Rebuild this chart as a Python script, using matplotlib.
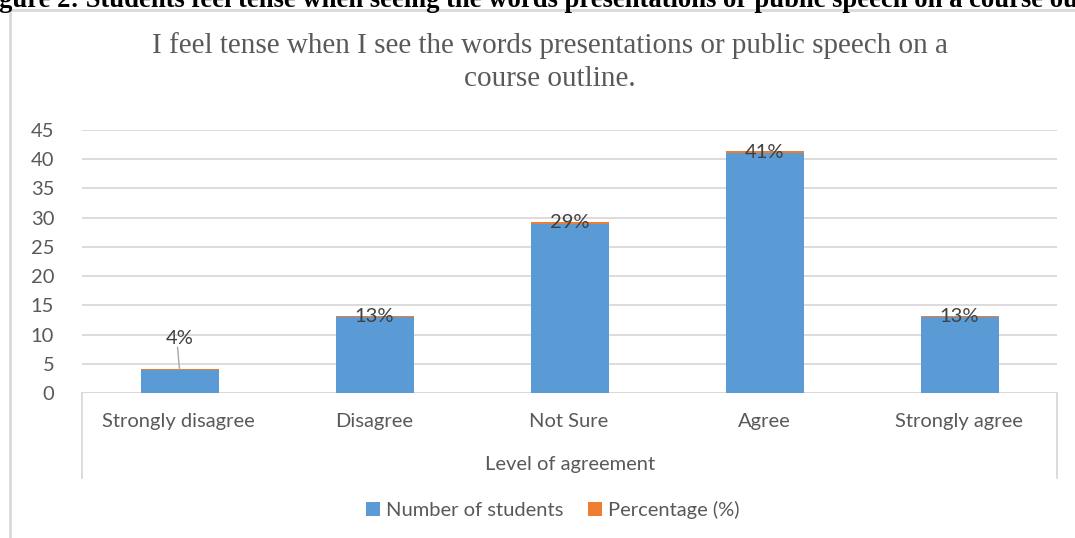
import matplotlib
matplotlib.use("Agg")
import matplotlib.pyplot as plt
from matplotlib.patches import Rectangle
from matplotlib.lines import Line2D
import numpy as np

categories = ["Strongly disagree", "Disagree", "Not Sure", "Agree", "Strongly agree"]
students = [4, 13, 29, 41, 13]
percentage = [0.04, 0.13, 0.29, 0.41, 0.13]
pct_labels = ["4%", "13%", "29%", "41%", "13%"]
yticks = [0, 5, 10, 15, 20, 25, 30, 35, 40, 45]

W, H = 1075, 538
fig = plt.figure(figsize=(W / 100, H / 100), dpi=100)

def fx(px):
    return px / W

def fy(py):
    return 1 - py / H

BLUE = "#5B9BD5"
ORANGE = "#ED7D31"
GRID = "#D9D9D9"
TXT = "#595959"
SANS = "Lato"
FS = 14.5

# outer chart frame (extends past right/bottom edges)
fig.add_artist(Rectangle((fx(10), fy(540)), fx(1080) - fx(10), fy(10) - fy(540),
                         transform=fig.transFigure, fill=False, edgecolor=GRID, lw=2))

# cropped document caption
fig.text(fx(-1), fy(7), "gure 2: Students feel tense when seeing the words presentations or public speech on a course ou",
         family="Liberation Serif", weight="bold", fontsize=19.2, color="black", ha="left", va="baseline")

# chart title
fig.text(fx(550), fy(46), "I feel tense when I see the words presentations or public speech on a",
         family="Liberation Serif", fontsize=21, color=TXT, ha="center", va="center")
fig.text(fx(550), fy(79), "course outline.",
         family="Liberation Serif", fontsize=21, color=TXT, ha="center", va="center")

ax = fig.add_axes([fx(82), fy(393), fx(1057) - fx(82), fy(130) - fy(393)])
x = np.arange(len(categories))
ax.bar(x, students, width=0.4, color=BLUE, zorder=3, label="Number of students")
ax.bar(x, percentage, width=0.4, bottom=students, color=ORANGE, zorder=3, label="Percentage (%)")
ax.set_xlim(-0.5, len(categories) - 0.5)
ax.set_ylim(0, 45)
ax.set_yticks(yticks)
ax.set_yticklabels([str(t) for t in yticks], family=SANS, fontsize=FS, color=TXT)
ax.tick_params(axis="y", length=0, pad=20)
ax.set_xticks([])
ax.grid(axis="y", color=GRID, lw=1.3, zorder=0)
for s in ax.spines.values():
    s.set_visible(False)
ax.axhline(0, color=GRID, lw=1.3, zorder=2)

# data labels
for i, (v, p, lab) in enumerate(zip(students, percentage, pct_labels)):
    if i == 0:
        ax.text(i, 9.4, lab, ha="center", va="center", family=SANS, fontsize=FS, color="#404040", zorder=5)
        ax.plot([i - 0.01, i], [7.8, v + p], color="#A6A6A6", lw=1, zorder=5)
    else:
        ax.text(i, v + p / 2, lab, ha="center", va="center", family=SANS, fontsize=FS, color="#404040", zorder=5)

# multi-level category box
for xp in (82, 1057):
    fig.add_artist(Line2D([fx(xp), fx(xp)], [fy(393), fy(478)], transform=fig.transFigure, color=GRID, lw=1.3))
centers = [178, 374, 569, 764, 959]
for c, lab in zip(centers, categories):
    fig.text(fx(c), fy(427), lab, family=SANS, fontsize=FS, color=TXT, ha="center", va="baseline")
fig.text(fx(570), fy(470), "Level of agreement", family=SANS, fontsize=FS, color=TXT, ha="center", va="baseline")

# legend
leg = fig.legend(loc="center", bbox_to_anchor=(fx(553), fy(510)), ncol=2, frameon=False,
                 prop={"family": SANS, "size": FS}, handlelength=0.7, handleheight=0.7,
                 handletextpad=0.3, columnspacing=1.2, labelcolor=TXT)

fig.savefig("out.png", dpi=100)
